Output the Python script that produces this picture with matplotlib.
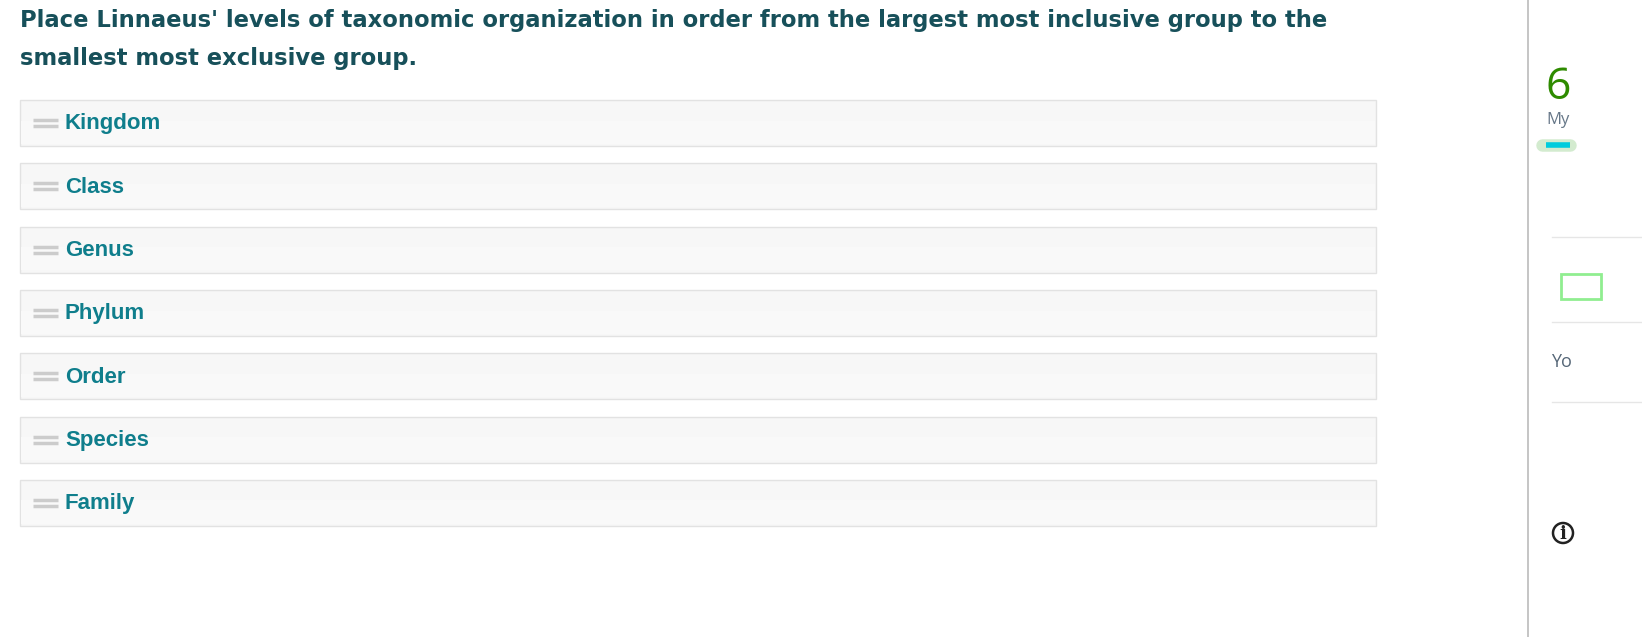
import matplotlib
matplotlib.use("Agg")
import matplotlib.pyplot as plt
from matplotlib.patches import Rectangle, Circle

title_lines = ["Place Linnaeus' levels of taxonomic organization in order from the largest most inclusive group to the",
               "smallest most exclusive group."]
items = ["Kingdom", "Class", "Genus", "Phylum", "Order", "Species", "Family"]

W, H = 1642, 637
fig = plt.figure(figsize=(W/100, H/100), dpi=100)
ax = fig.add_axes([0, 0, 1, 1])
ax.set_xlim(0, W); ax.set_ylim(H, 0); ax.axis("off")

for i, t in enumerate(title_lines):
    ax.text(20, 21 + i*37, t, fontsize=16.3, fontweight="bold", color="#17505a",
            family="DejaVu Sans", va="center", ha="left")

top0, step, bh = 100, 63.3, 46
for i, lab in enumerate(items):
    y = top0 + i*step
    ax.add_patch(Rectangle((20, y), 1356, bh, facecolor="#f7f7f7", edgecolor="#e2e2e2", lw=1))
    ax.add_patch(Rectangle((21, y+bh*0.45), 1354, bh*0.5, facecolor="#f9f9f9", edgecolor="none"))
    for dy in (-3, 3):
        ax.plot([33, 58], [y+bh/2+dy, y+bh/2+dy], color="#cccccc", lw=2.5, solid_capstyle="butt")
    ax.text(65, y+bh/2+1, lab, fontsize=16, fontweight="bold", color="#0f7e8c",
            family="Liberation Sans", va="center", ha="left")

# right panel
ax.plot([1528, 1528], [0, H], color="#bbbbbb", lw=1.2)
ax.text(1545, 88, "6", fontsize=32, color="#2e8b00", family="Open Sans", va="center", clip_on=True)
ax.text(1546, 120, "My", fontsize=12, color="#667788", family="Open Sans", va="center", clip_on=True)
ax.plot([1542, 1570], [145, 145], color="#a8d8a0", lw=9, alpha=0.5, solid_capstyle="round")
ax.plot([1546, 1570], [145, 145], color="#00ccdd", lw=4, solid_capstyle="butt")
for yy in (237, 322, 402):
    ax.plot([1552, W], [yy, yy], color="#e6e6e6", lw=1)
ax.add_patch(Rectangle((1561, 274), 40, 25, facecolor="none", edgecolor="#90ee90", lw=2))
ax.text(1551, 362, "Yo", fontsize=13, color="#556677", family="Open Sans", va="center", clip_on=True)
ax.add_patch(Circle((1563, 533), 10, facecolor="none", edgecolor="#222222", lw=1.8))
ax.text(1563, 534, "i", fontsize=13, fontweight="bold", color="#222222", family="DejaVu Serif",
        ha="center", va="center")

fig.savefig("out.png", dpi=100)
